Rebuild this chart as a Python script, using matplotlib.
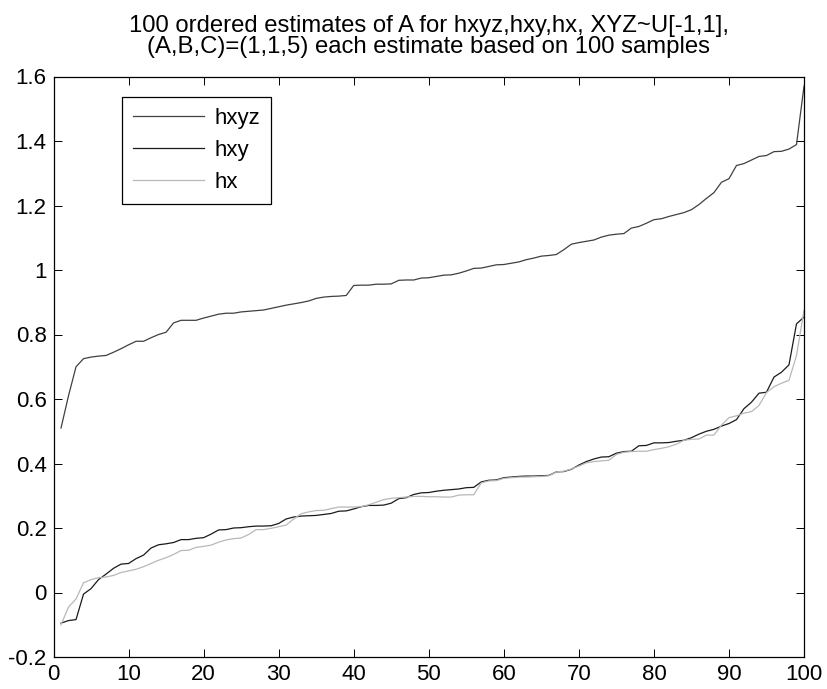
import numpy as np
import matplotlib
matplotlib.use("Agg")
import matplotlib.pyplot as plt

plt.rcParams['font.family'] = ['Liberation Sans', 'DejaVu Sans']

# sorted estimates, index 1..100
idx = np.arange(1, 101)

hxyz = [0.51, 0.61, 0.70, 0.725, 0.73, 0.733, 0.735, 0.745, 0.756, 0.768,
        0.779, 0.779, 0.79, 0.80, 0.807, 0.836, 0.844, 0.844, 0.844, 0.851,
        0.857, 0.863, 0.866, 0.866, 0.87, 0.872, 0.874, 0.876, 0.881, 0.886,
        0.891, 0.895, 0.899, 0.904, 0.912, 0.916, 0.918, 0.919, 0.921, 0.952,
        0.953, 0.953, 0.956, 0.956, 0.957, 0.968, 0.969, 0.969, 0.975, 0.976,
        0.98, 0.984, 0.985, 0.99, 0.997, 1.005, 1.006, 1.011, 1.016, 1.017,
        1.021, 1.025, 1.032, 1.037, 1.043, 1.045, 1.048, 1.063, 1.080, 1.085,
        1.089, 1.093, 1.102, 1.108, 1.111, 1.113, 1.13, 1.135, 1.145, 1.156,
        1.159, 1.166, 1.172, 1.178, 1.187, 1.203, 1.222, 1.240, 1.272, 1.283,
        1.324, 1.330, 1.341, 1.352, 1.355, 1.367, 1.368, 1.375, 1.389, 1.57]

hxy = [-0.095, -0.087, -0.084, -0.005, 0.012, 0.04, 0.057, 0.075, 0.088, 0.09,
       0.105, 0.116, 0.138, 0.148, 0.151, 0.155, 0.164, 0.164, 0.168, 0.170,
       0.181, 0.194, 0.195, 0.2, 0.201, 0.204, 0.206, 0.206, 0.207, 0.214,
       0.228, 0.234, 0.237, 0.238, 0.239, 0.242, 0.245, 0.252, 0.253, 0.259,
       0.266, 0.27, 0.27, 0.271, 0.277, 0.291, 0.294, 0.304, 0.309, 0.31,
       0.314, 0.317, 0.319, 0.321, 0.325, 0.326, 0.343, 0.348, 0.349, 0.356,
       0.358, 0.360, 0.361, 0.361, 0.362, 0.363, 0.374, 0.375, 0.382, 0.395,
       0.406, 0.414, 0.42, 0.421, 0.432, 0.437, 0.438, 0.455, 0.456, 0.464,
       0.464, 0.465, 0.469, 0.472, 0.48, 0.491, 0.5, 0.506, 0.516, 0.524,
       0.536, 0.570, 0.59, 0.618, 0.621, 0.668, 0.683, 0.706, 0.833, 0.854]

hx = [-0.10, -0.045, -0.02, 0.03, 0.04, 0.046, 0.048, 0.053, 0.062, 0.067,
      0.072, 0.08, 0.09, 0.1, 0.108, 0.118, 0.13, 0.131, 0.14, 0.143,
      0.147, 0.156, 0.163, 0.167, 0.169, 0.18, 0.195, 0.195, 0.199, 0.204,
      0.209, 0.228, 0.244, 0.25, 0.254, 0.255, 0.26, 0.265, 0.265, 0.265,
      0.266, 0.272, 0.28, 0.288, 0.292, 0.294, 0.296, 0.298, 0.298, 0.297,
      0.297, 0.296, 0.296, 0.302, 0.303, 0.303, 0.34, 0.346, 0.347, 0.354,
      0.356, 0.358, 0.358, 0.359, 0.36, 0.362, 0.374, 0.376, 0.383, 0.392,
      0.402, 0.406, 0.408, 0.41, 0.428, 0.435, 0.437, 0.438, 0.438, 0.443,
      0.447, 0.452, 0.46, 0.472, 0.475, 0.476, 0.488, 0.488, 0.519, 0.542,
      0.548, 0.556, 0.561, 0.58, 0.62, 0.638, 0.649, 0.658, 0.735, 0.875]

xticks = list(range(0, 101, 10))
yticks = [-0.2, 0, 0.2, 0.4, 0.6, 0.8, 1, 1.2, 1.4, 1.6]
ytick_labels = ["-0.2", "0", "0.2", "0.4", "0.6", "0.8", "1", "1.2", "1.4", "1.6"]

fig = plt.figure(figsize=(8.27, 6.89), dpi=100)
ax = fig.add_axes([53.5 / 827, 1 - 657 / 689, 750.5 / 827, 580.5 / 689])

ax.plot(idx, hxyz, color='#404040', lw=0.9, label='hxyz')
ax.plot(idx, hxy, color='#1a1a1a', lw=0.9, label='hxy')
ax.plot(idx, hx, color='#b8b8b8', lw=0.9, label='hx')

ax.set_xlim(0, 100)
ax.set_ylim(-0.2, 1.6)
ax.set_xticks(xticks)
ax.set_yticks(yticks)
ax.set_yticklabels(ytick_labels)
ax.tick_params(direction='in', length=6, width=0.7, top=True, right=True,
               labelsize=16, pad=5)
for s in ax.spines.values():
    s.set_linewidth(0.9)

ax.set_title("100 ordered estimates of A for hxyz,hxy,hx, XYZ~U[-1,1],\n"
             "(A,B,C)=(1,1,5) each estimate based on 100 samples",
             fontsize=17.2, pad=17, linespacing=0.95)

leg = ax.legend(loc='upper left', bbox_to_anchor=(0.091, 0.965), fontsize=16,
                fancybox=False, edgecolor='black', framealpha=1,
                handlelength=3.2, handletextpad=0.45, borderpad=0.5,
                labelspacing=0.5, borderaxespad=0)
leg.get_frame().set_linewidth(0.9)

plt.savefig("out.png", dpi=100)
